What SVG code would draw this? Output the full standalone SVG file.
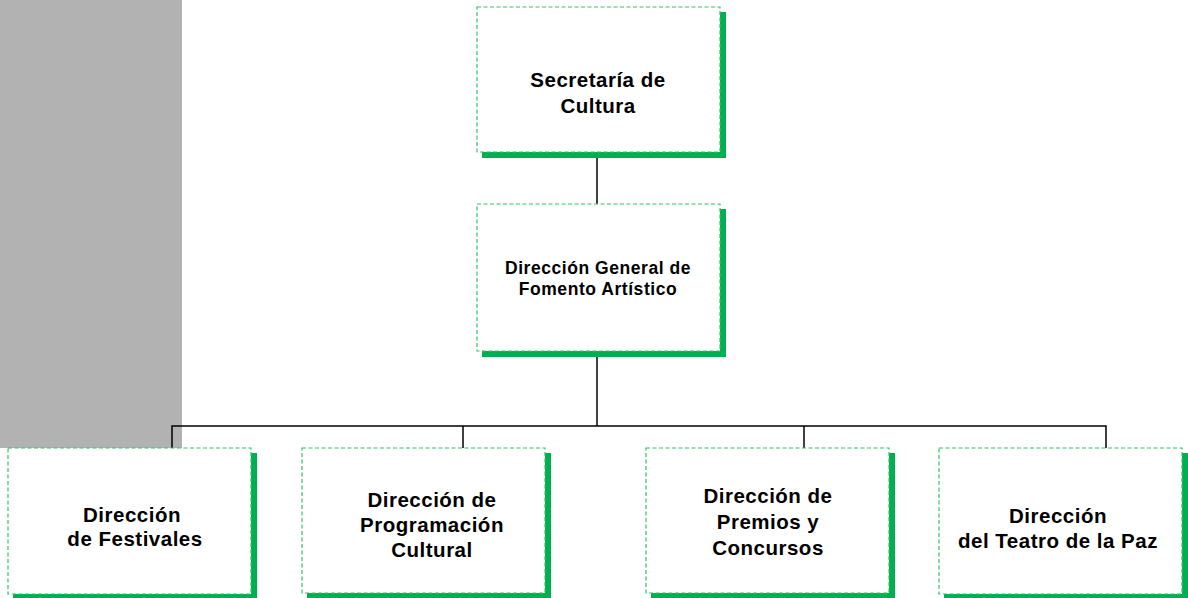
<svg xmlns="http://www.w3.org/2000/svg" width="1188" height="598" viewBox="0 0 1188 598">
<style>
.sh{fill:#00B050}
.bx{fill:#ffffff;stroke:#33C466;stroke-width:1.2;stroke-dasharray:4 2.5}
.t{font-family:"Liberation Sans",Arial,sans-serif;font-weight:bold;fill:#000;text-anchor:middle;font-size:20.5px;letter-spacing:0.5px}
.s{font-size:17.5px;letter-spacing:0.55px}
.c{stroke:#000;stroke-width:1.5;fill:none}
</style>
<rect x="0" y="0" width="182" height="448" fill="#B2B2B2"/>
<g id="connectors">
<line class="c" x1="597" y1="157" x2="597" y2="204"/>
<line class="c" x1="597" y1="357" x2="597" y2="426"/>
<polyline class="c" points="172,448 172,426 1106,426 1106,448"/>
<line class="c" x1="463" y1="426" x2="463" y2="448"/>
<line class="c" x1="804" y1="426" x2="804" y2="448"/>
</g>
<g id="n1">
<rect class="sh" x="482" y="12" width="244" height="146"/>
<rect class="bx" x="477" y="7" width="243" height="145"/>
<text class="t" x="598" y="87">Secretaría de</text>
<text class="t" x="598" y="113">Cultura</text>
</g>
<g id="n2">
<rect class="sh" x="482" y="209" width="244" height="148"/>
<rect class="bx" x="477" y="204" width="243" height="147"/>
<text class="t s" x="598" y="274">Dirección General de</text>
<text class="t s" x="598" y="295">Fomento Artístico</text>
</g>
<g id="n3">
<rect class="sh" x="13" y="453" width="244" height="146"/>
<rect class="bx" x="8" y="448" width="243" height="146"/>
<text class="t" x="132" y="522">Dirección</text>
<text class="t" x="135" y="546">de Festivales</text>
</g>
<g id="n4">
<rect class="sh" x="307" y="453" width="244" height="146"/>
<rect class="bx" x="302" y="448" width="243" height="145"/>
<text class="t" x="432" y="507">Dirección de</text>
<text class="t" x="432" y="532">Programación</text>
<text class="t" x="432" y="557">Cultural</text>
</g>
<g id="n5">
<rect class="sh" x="651" y="453" width="244" height="146"/>
<rect class="bx" x="646" y="448" width="243" height="145"/>
<text class="t" x="768" y="503">Dirección de</text>
<text class="t" x="768" y="529">Premios y</text>
<text class="t" x="768" y="555">Concursos</text>
</g>
<g id="n6">
<rect class="sh" x="944" y="453" width="244" height="146"/>
<rect class="bx" x="939" y="448" width="243" height="146"/>
<text class="t" x="1058" y="523">Dirección</text>
<text class="t" x="1058" y="548">del Teatro de la Paz</text>
</g>
</svg>
